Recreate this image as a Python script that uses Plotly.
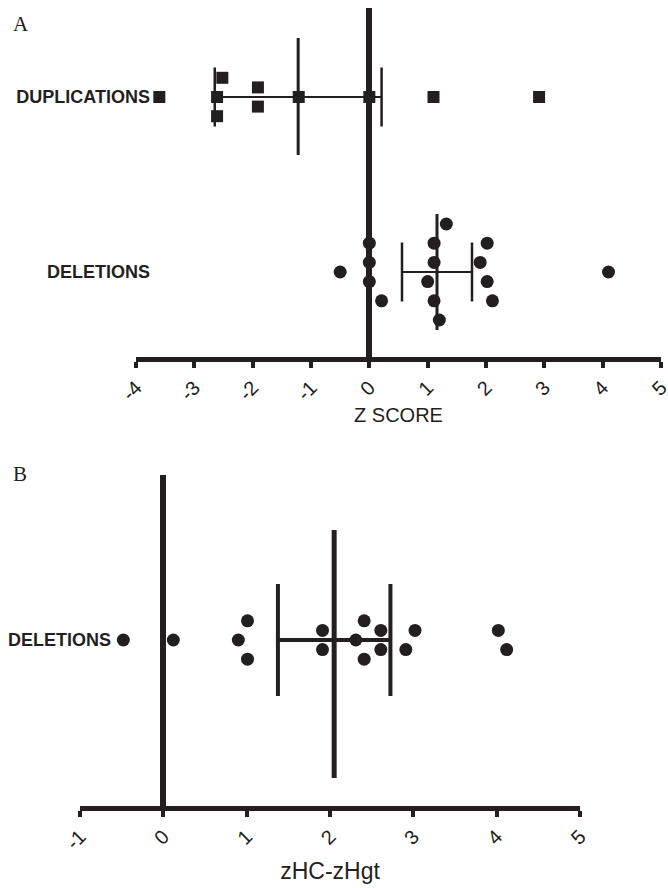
import plotly.graph_objects as go

# ---------------- data ----------------
categories_a = ["DELETIONS", "DUPLICATIONS"]
categories_b = ["DELETIONS"]

# Panel A - duplications (Z score) and beeswarm row slots
dup_x = [-3.6, -2.52, -2.61, -2.61, -1.91, -1.91, -1.21, 0.0, 1.1, 2.91]
dup_row = [0, 2, 0, -2, 1, -1, 0, 0, 0, 0]
dup_mean = -1.22
dup_sd = 1.43

# Panel A - deletions (Z score)
del_a_x = [-0.5, 0.0, 0.0, 0.0, 0.21, 1.32, 1.11, 1.11, 1.0, 1.11, 1.2,
           2.02, 1.9, 2.02, 2.11, 4.1]
del_a_row = [0, 3, 1, -1, -3, 5, 3, 1, -1, -3, -5, 3, 1, -1, -3, 0]
del_a_mean = 1.16
del_a_sd = 0.60

# Panel B - deletions (zHC - zHgt)
del_b_x = [-0.48, 0.12, 1.01, 0.90, 1.01, 1.91, 1.91, 2.41, 2.31, 2.41,
           2.61, 2.61, 3.02, 2.91, 4.02, 4.12]
del_b_row = [0, 0, 2, 0, -2, 1, -1, 2, 0, -2, 1, -1, 1, -1, 1, -1]
del_b_mean = 2.05
del_b_sd = 0.675

ticks_a = [-4, -3, -2, -1, 0, 1, 2, 3, 4, 5]
ticks_b = [-1, 0, 1, 2, 3, 4, 5]
ticktext_a = ["-4", "-3", "-2", "-1", "0", "1", "2", "3", "4", "5"]
ticktext_b = ["-1", "0", "1", "2", "3", "4", "5"]

# ---------------- style ----------------
INK = "#231f20"
W, H = 668, 888
PXU = 175.0            # pixels per y unit
STEP = 9.6 / PXU       # beeswarm row step
MS = 13

def px(v):
    return v / PXU

fig = go.Figure()

def add_summary(xa, ya, cy, mean, sd, cap_half, mean_up, mean_down, lw_h, lw_cap, lw_mean):
    lo, hi = mean - sd, mean + sd
    fig.add_trace(go.Scatter(x=[lo, hi], y=[cy, cy], mode="lines",
                             line=dict(color=INK, width=lw_h), xaxis=xa, yaxis=ya,
                             showlegend=False, hoverinfo="skip"))
    for xv in (lo, hi):
        fig.add_trace(go.Scatter(x=[xv, xv], y=[cy - cap_half, cy + cap_half], mode="lines",
                                 line=dict(color=INK, width=lw_cap), xaxis=xa, yaxis=ya,
                                 showlegend=False, hoverinfo="skip"))
    fig.add_trace(go.Scatter(x=[mean, mean], y=[cy - mean_down, cy + mean_up], mode="lines",
                             line=dict(color=INK, width=lw_mean), xaxis=xa, yaxis=ya,
                             showlegend=False, hoverinfo="skip"))

# Panel A summaries
add_summary("x", "y", 1, dup_mean, dup_sd, px(29.5), px(59), px(58), 2.2, 2.5, 3)
add_summary("x", "y", 0, del_a_mean, del_a_sd, px(29.5), px(58), px(58), 2.2, 2.5, 3)
# Panel B summary
add_summary("x2", "y2", 0, del_b_mean, del_b_sd, px(56), px(110), px(138), 4, 4, 5)

# Points
fig.add_trace(go.Scatter(x=dup_x, y=[1 + r * STEP for r in dup_row], mode="markers",
                         marker=dict(symbol="square", size=MS - 1, color=INK),
                         xaxis="x", yaxis="y", showlegend=False, cliponaxis=False))
fig.add_trace(go.Scatter(x=del_a_x, y=[0 + r * STEP for r in del_a_row], mode="markers",
                         marker=dict(symbol="circle", size=MS, color=INK),
                         xaxis="x", yaxis="y", showlegend=False, cliponaxis=False))
fig.add_trace(go.Scatter(x=del_b_x, y=[0 + r * STEP for r in del_b_row], mode="markers",
                         marker=dict(symbol="circle", size=MS, color=INK),
                         xaxis="x2", yaxis="y2", showlegend=False, cliponaxis=False))

# ---------------- axes ----------------
def fy(py):
    return (H - py) / H

# Panel A geometry
a_top, a_bot, a_cat0 = 8, 357, 272
a_ymin = -(a_bot - a_cat0) / PXU
a_ymax = a_ymin + (a_bot - a_top) / PXU
# Panel B geometry
b_top, b_bot, b_cat0 = 475, 806, 640
b_ymin = -(b_bot - b_cat0) / PXU
b_ymax = (b_cat0 - b_top) / PXU

xcommon = dict(showgrid=False, showline=True, linewidth=5, linecolor=INK,
               ticks="outside", ticklen=6, tickwidth=4, tickcolor=INK,
               tickangle=-45, zeroline=True, zerolinewidth=6, zerolinecolor=INK,
               automargin=False, ticklabeloverflow="allow",
               tickfont=dict(family="Liberation Sans, Arial", size=20, color=INK))
ycommon = dict(anchor="free", showgrid=False, zeroline=False, showline=False,
               ticks="", automargin=False,
               tickfont=dict(family="Liberation Sans, Arial", size=18, color=INK,
                             weight="bold"))

fig.update_layout(
    width=W, height=H, margin=dict(l=0, r=0, t=0, b=0, autoexpand=False),
    paper_bgcolor="white", plot_bgcolor="white",
    xaxis=dict(domain=[136 / W, 661 / W], range=[-4, 5], tickvals=ticks_a,
               ticktext=ticktext_a, anchor="y",
               title=dict(text="Z SCORE", standoff=6,
                          font=dict(family="Liberation Sans, Arial", size=20, color=INK)),
               **xcommon),
    yaxis=dict(domain=[fy(a_bot), fy(a_top)], range=[a_ymin, a_ymax],
               position=150 / W, tickvals=[0, 1], ticktext=categories_a, **ycommon),
    xaxis2=dict(domain=[80 / W, 580 / W], range=[-1, 5], tickvals=ticks_b,
                ticktext=ticktext_b, anchor="y2",
                title=dict(text="zHC-zHgt", standoff=12,
                           font=dict(family="Liberation Sans, Arial", size=23, color=INK)),
                **xcommon),
    yaxis2=dict(domain=[fy(b_bot), fy(b_top)], range=[b_ymin, b_ymax],
                position=111 / W, tickvals=[0], ticktext=categories_b, **ycommon),
    annotations=[
        dict(text="A", x=11 / W, y=fy(10), xref="paper", yref="paper",
             xanchor="left", yanchor="top", showarrow=False,
             font=dict(family="Liberation Serif, DejaVu Serif", size=21, color=INK)),
        dict(text="B", x=11 / W, y=fy(460), xref="paper", yref="paper",
             xanchor="left", yanchor="top", showarrow=False,
             font=dict(family="Liberation Serif, DejaVu Serif", size=21, color=INK)),
    ],
)

fig.write_html("out.html")
